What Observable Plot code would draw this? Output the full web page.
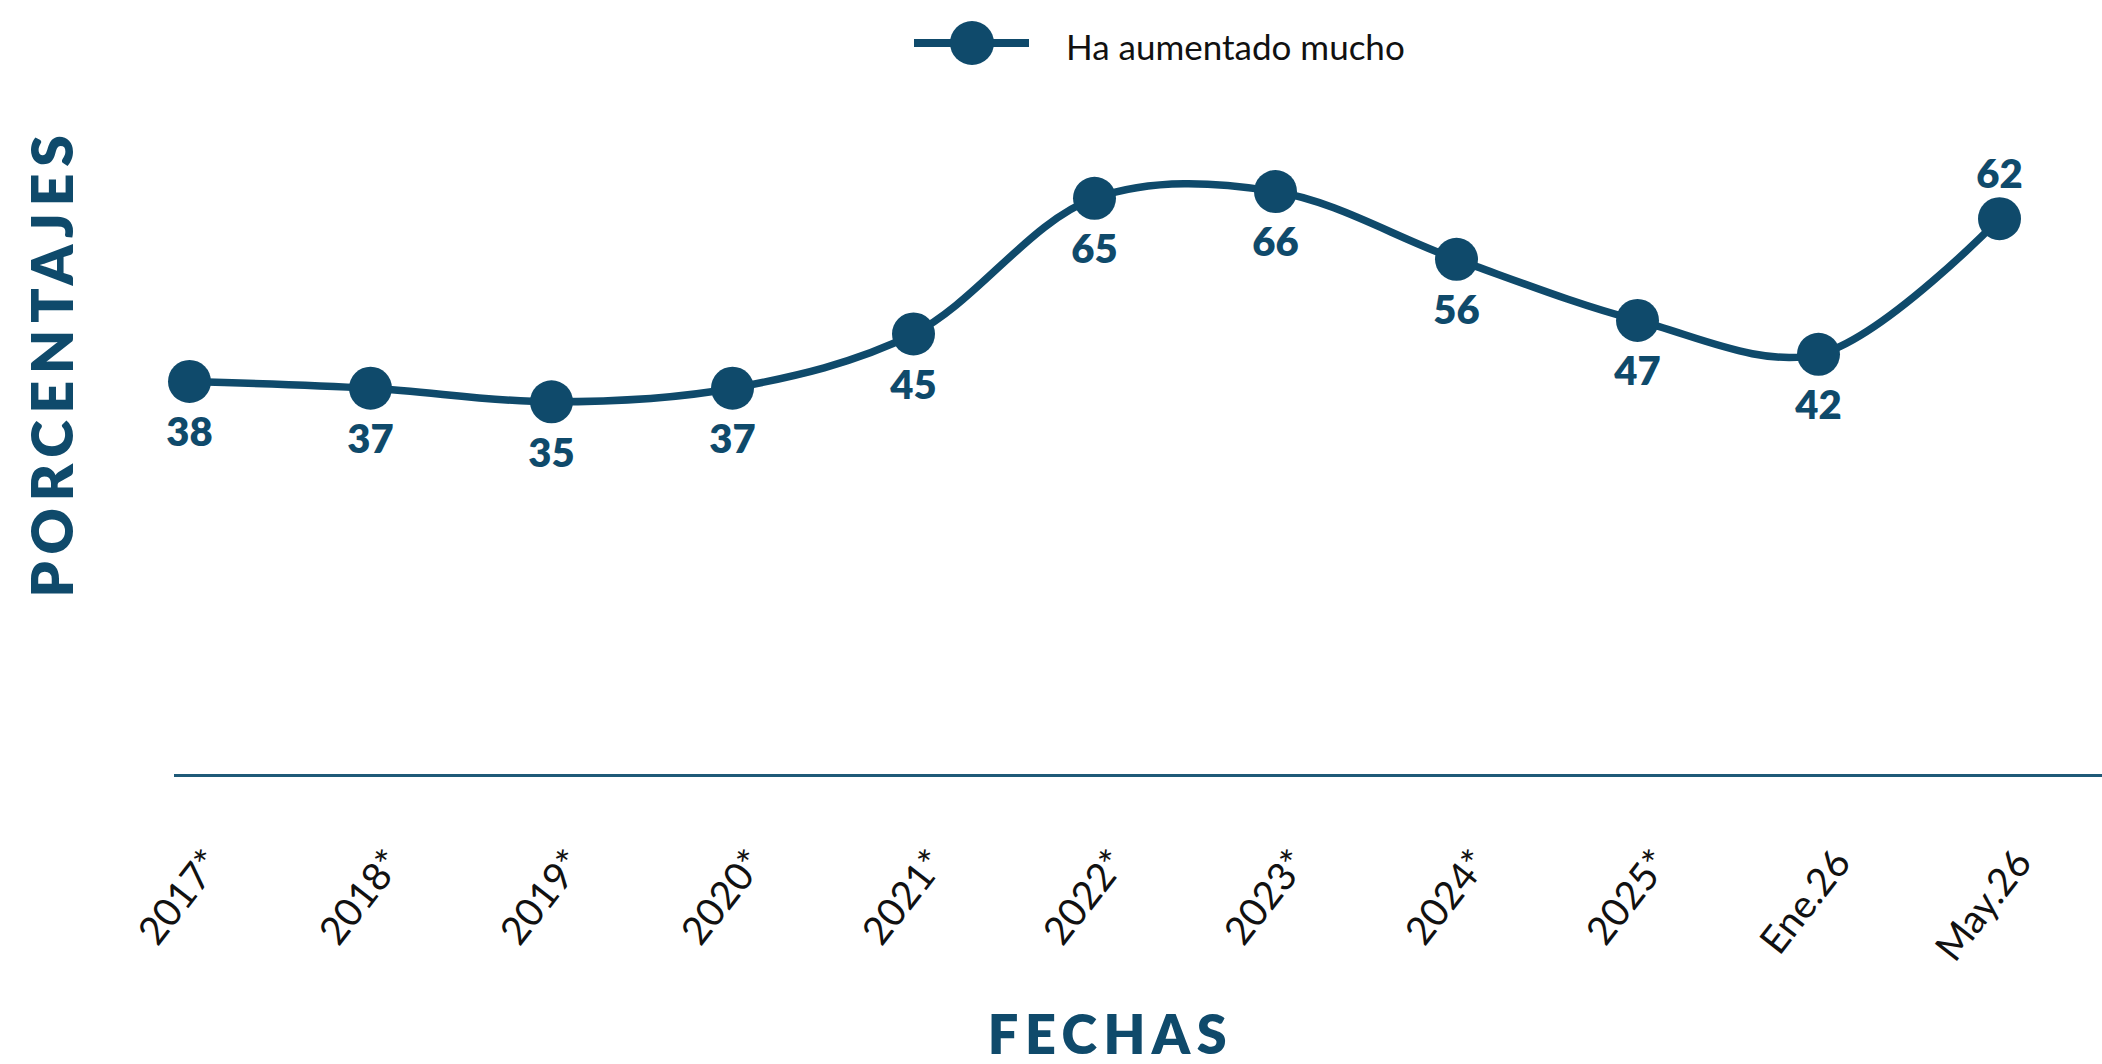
<!DOCTYPE html>
<html>
<head>
<meta charset="utf-8">
<script src="https://cdn.jsdelivr.net/npm/d3@7"></script>
<script src="https://cdn.jsdelivr.net/npm/@observablehq/plot@0.6"></script>
<style>
  html, body { margin: 0; padding: 0; background: #fff; width: 2102px; height: 1064px; overflow: hidden; }
  #legend { position: relative; width: 2102px; height: 90px; font-family: "Lato", sans-serif; }
  #legend svg { position: absolute; left: 900px; top: 11px; }
  #legend span { position: absolute; left: 1066px; top: 24px; font-size: 35px; color: #111; line-height: 44px; }
</style>
</head>
<body>
<div id="legend">
  <svg width="140" height="64" viewBox="0 0 140 64">
    <line x1="14" y1="32" x2="129" y2="32" stroke="#0f4a6b" stroke-width="8"></line>
    <circle cx="72" cy="32" r="22" fill="#0f4a6b"></circle>
  </svg>
  <span>Ha aumentado mucho</span>
</div>
<div id="chart"></div>
<script>
const categories = ["2017*", "2018*", "2019*", "2020*", "2021*", "2022*", "2023*", "2024*", "2025*", "Ene.26", "May.26"];
const values = [38, 37, 35, 37, 45, 65, 66, 56, 47, 42, 62];
const labelAbove = [false, false, false, false, false, false, false, false, false, false, true];
const xTitle = "FECHAS";
const yTitle = "PORCENTAJES";
const seriesName = "Ha aumentado mucho";

const color = "#0f4a6b";
const data = categories.map((c, i) => ({cat: c, value: values[i], above: labelAbove[i]}));
const yMin = -20.1;

const chart = Plot.plot({
  width: 2102,
  height: 974,
  marginLeft: 174,
  marginRight: 0,
  marginTop: 40,
  marginBottom: 289,
  style: {fontFamily: "Lato, sans-serif", background: "white", overflow: "visible"},
  x: {type: "point", domain: categories, padding: 0.304, align: 0.13, axis: null},
  y: {domain: [yMin, 75], axis: null},
  marks: [
    Plot.ruleY([yMin], {stroke: "#1f5a78", strokeWidth: 3}),
    Plot.axisX({tickSize: 0, tickPadding: 80, rotate: -52, textAnchor: "end", lineAnchor: "middle", fontSize: 39, fill: "#111", dx: 24, label: null}),
    Plot.line(data, {x: "cat", y: "value", curve: "catmull-rom", stroke: color, strokeWidth: 7.5}),
    Plot.dot(data, {x: "cat", y: "value", r: 21.5, fill: color}),
    Plot.text(data.filter(d => !d.above), {x: "cat", y: "value", text: d => String(d.value), dy: 52, fontSize: 40, fontWeight: 800, fill: color}),
    Plot.text(data.filter(d => d.above), {x: "cat", y: "value", text: d => String(d.value), dy: -43, fontSize: 40, fontWeight: 800, fill: color}),
    Plot.text([xTitle], {frameAnchor: "bottom", textAnchor: "middle", lineAnchor: "middle", dy: 261, dx: -28, fontSize: 54, fontWeight: 800, fill: color}),
    Plot.text([yTitle], {frameAnchor: "left", textAnchor: "middle", lineAnchor: "middle", rotate: -90, dx: -120, dy: -90, fontSize: 57, fontWeight: 800, fill: color})
  ]
});
d3.select(chart).selectAll("text").each(function() {
  const t = this.textContent;
  if (t === xTitle) this.setAttribute("letter-spacing", "0.12em");
  if (t === yTitle) this.setAttribute("letter-spacing", "0.12em");
});
document.getElementById("chart").appendChild(chart);
</script>
</body>
</html>
